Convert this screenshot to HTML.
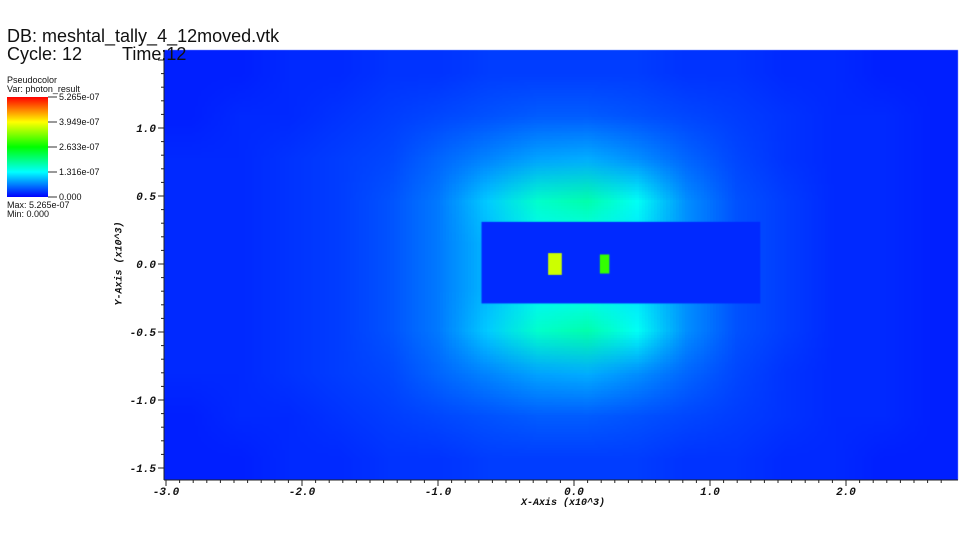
<!DOCTYPE html>
<html><head><meta charset="utf-8"><style>
body{margin:0;background:#fff;width:960px;height:540px;overflow:hidden;position:relative;font-family:"Liberation Sans",sans-serif}
.t{position:absolute;color:#111;white-space:nowrap}
.tk{font-family:"Liberation Mono",monospace;font-weight:bold;font-style:italic;font-size:11px}
</style></head><body>
<canvas id="c" width="960" height="540" style="position:absolute;left:0;top:0"></canvas>
<svg id="ax" width="960" height="540" style="position:absolute;left:0;top:0"></svg>
<div class="t" style="left:7px;top:26px;font-size:18px">DB: meshtal_tally_4_12moved.vtk</div>
<div class="t" style="left:7px;top:44px;font-size:18px">Cycle: 12</div>
<div class="t" style="left:122px;top:44px;font-size:18px">Time:12</div>
<div class="t" style="left:7px;top:75px;font-size:9px">Pseudocolor</div>
<div class="t" style="left:7px;top:84px;font-size:9px">Var: photon_result</div>
<div style="position:absolute;left:7px;top:97px;width:41px;height:100px;background:linear-gradient(to top,#0000ff,#00ffff 25%,#00ff00 50%,#ffff00 75%,#ff0000)"></div>
<div class="t" style="left:7px;top:200px;font-size:9px">Max: 5.265e-07</div>
<div class="t" style="left:7px;top:209px;font-size:9px">Min: 0.000</div>
<div class="t tk" style="left:521px;top:498px;font-size:10px">X-Axis (x10^3)</div>
<div class="t tk" style="left:78px;top:258px;font-size:10px;transform:rotate(-90deg);transform-origin:center">Y-Axis (x10^3)</div>
<script>
const legendValues=["5.265e-07","3.949e-07","2.633e-07","1.316e-07","0.000"];
const xTicks=[-3,-2,-1,0,1,2];
const yTicks=[1,0.5,0,-0.5,-1,-1.5];
const gridRows=[
[.03,.03,.04,.04,.05,.05,.06,.06,.06,.06,.05,.05,.04,.04,.03,.03],
[.03,.04,.04,.05,.06,.07,.08,.09,.09,.08,.07,.06,.05,.04,.04,.03],
[.04,.04,.05,.06,.07,.10,.13,.16,.17,.14,.10,.07,.05,.04,.04,.03],
[.04,.04,.05,.06,.08,.12,.20,.30,.33,.26,.14,.08,.06,.04,.04,.03],
[.04,.04,.05,.06,.08,.12,.18,.24,.25,.22,.14,.08,.06,.04,.04,.03],
[.04,.04,.05,.06,.08,.12,.18,.24,.25,.22,.14,.08,.06,.04,.04,.03],
[.04,.04,.05,.06,.08,.12,.20,.30,.33,.26,.14,.08,.06,.04,.04,.03],
[.04,.04,.05,.06,.07,.10,.13,.16,.17,.14,.10,.07,.05,.04,.04,.03],
[.03,.04,.04,.05,.06,.07,.08,.09,.09,.08,.07,.06,.05,.04,.04,.03],
[.03,.03,.04,.04,.05,.05,.06,.06,.06,.06,.05,.05,.04,.04,.03,.03]];
// [x0,x1,y0,y1,value] in data units (x10^3)
const blocks=[[-0.68,1.37,0.31,-0.29,0.04],[-0.19,-0.09,0.08,-0.08,0.7],[0.19,0.26,0.07,-0.07,0.55]];
const X0=164,X1=958,Y0=50,Y1=480;
const sx=v=>574+v*136, sy=v=>264-v*136;
function cmap(v){v=Math.max(0,Math.min(1,v));const s=[[0,0,255],[0,255,255],[0,255,0],[255,255,0],[255,0,0]];
 const f=v*4,i=Math.min(3,Math.floor(f)),t=f-i;return s[i].map((a,k)=>Math.round(a+(s[i+1][k]-a)*t));}
const c=document.getElementById('c').getContext('2d');
const sm=document.createElement('canvas');sm.width=gridRows[0].length;sm.height=gridRows.length;
const sc=sm.getContext('2d');const img=sc.createImageData(sm.width,sm.height);
gridRows.forEach((r,j)=>r.forEach((v,i)=>{const p=cmap(v),o=(j*sm.width+i)*4;img.data[o]=p[0];img.data[o+1]=p[1];img.data[o+2]=p[2];img.data[o+3]=255;}));
sc.putImageData(img,0,0);
c.imageSmoothingEnabled=true;c.drawImage(sm,X0,Y0,X1-X0,Y1-Y0);
blocks.forEach(b=>{const p=cmap(b[4]);c.fillStyle=`rgb(${p})`;c.fillRect(sx(b[0]),sy(b[2]),sx(b[1])-sx(b[0]),sy(b[3])-sy(b[2]));});
const ns='http://www.w3.org/2000/svg',ax=document.getElementById('ax');
function el(t,a){const e=document.createElementNS(ns,t);for(const k in a)e.setAttribute(k,a[k]);ax.appendChild(e);return e;}
let e=el('line',{x1:X0,y1:Y1,x2:X1,y2:Y1,stroke:'#222'});
e=el('line',{x1:X0,y1:Y0,x2:X0,y2:Y1,stroke:'#222'});
for(let v=-3;v<=2.8;v+=0.1){const x=sx(v);if(x<X0)continue;const maj=Math.abs(v-Math.round(v))<0.01;el('line',{x1:x,y1:Y1,x2:x,y2:Y1+(maj?6:3),stroke:'#222'});}
for(let v=-1.5;v<=1.55;v+=0.1){const y=sy(v);const maj=Math.abs(v*2-Math.round(v*2))<0.01;el('line',{x1:X0,y1:y,x2:X0-(maj?6:3),y2:y,stroke:'#222'});}
xTicks.forEach(v=>{const t=el('text',{x:sx(v),y:495,'text-anchor':'middle','font-family':'Liberation Mono','font-weight':'bold','font-style':'italic','font-size':11,fill:'#111'});t.textContent=v.toFixed(1);});
yTicks.forEach(v=>{const t=el('text',{x:156,y:sy(v)+4,'text-anchor':'end','font-family':'Liberation Mono','font-weight':'bold','font-style':'italic','font-size':11,fill:'#111'});t.textContent=v.toFixed(1);});
legendValues.forEach((s,i)=>{const y=97+i*25;el('line',{x1:48,y1:y,x2:57,y2:y,stroke:'#333'});const t=el('text',{x:59,y:y+3,'font-family':'Liberation Sans','font-size':9,fill:'#111'});t.textContent=s;});
</script>
</body></html>
